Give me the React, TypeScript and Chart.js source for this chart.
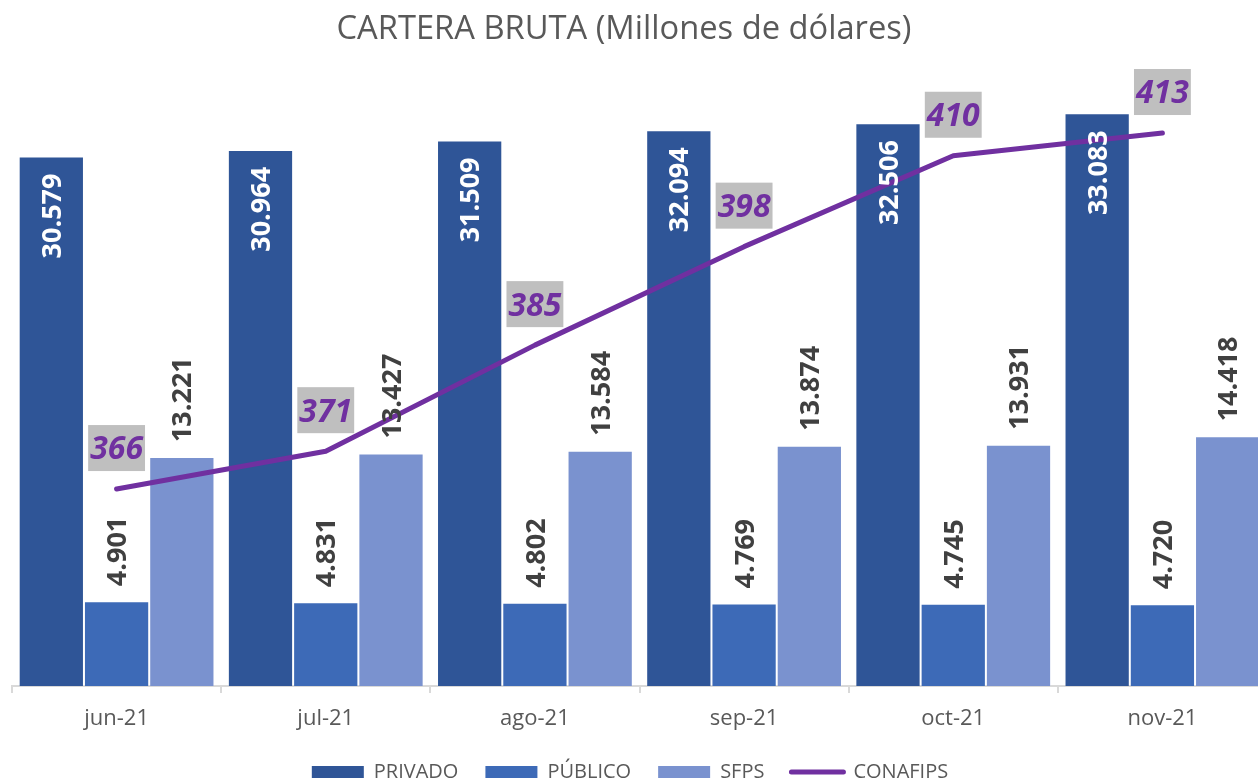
import React, { useEffect, useRef } from "react";
import { Chart, registerables } from "chart.js";

Chart.register(...registerables);

const titleText = "CARTERA BRUTA (Millones de dólares)";
const categories = ["jun-21", "jul-21", "ago-21", "sep-21", "oct-21", "nov-21"];
const seriesNames = ["PRIVADO", "PÚBLICO", "SFPS", "CONAFIPS"];
const privado = [30579, 30964, 31509, 32094, 32506, 33083];
const publico = [4901, 4831, 4802, 4769, 4745, 4720];
const sfps = [13221, 13427, 13584, 13874, 13931, 14418];
const conafips = [366, 371, 385, 398, 410, 413];

const FONT = "'Open Sans'";

function fmtThousands(v: number): string {
  return String(Math.round(v)).replace(/\B(?=(\d{3})+(?!\d))/g, ".");
}

const labelPlugin = {
  id: "valueLabels",
  afterDatasetsDraw(chart: any) {
    const ctx = chart.ctx as CanvasRenderingContext2D;
    ctx.save();
    const fs = 27;
    ctx.font = `bold ${fs}px ${FONT}`;
    [0, 1, 2].forEach((di) => {
      const meta = chart.getDatasetMeta(di);
      const data = chart.data.datasets[di].data as number[];
      meta.data.forEach((bar: any, i: number) => {
        const text = fmtThousands(data[i]);
        ctx.save();
        ctx.translate(bar.x, bar.y + (di === 0 ? 17 : -15));
        ctx.rotate(-Math.PI / 2);
        ctx.textAlign = di === 0 ? "right" : "left";
        ctx.textBaseline = "alphabetic";
        ctx.fillStyle = di === 0 ? "#FFFFFF" : "#404040";
        ctx.fillText(text, 0, fs * 0.357);
        ctx.restore();
      });
    });
    const lmeta = chart.getDatasetMeta(3);
    const ldata = chart.data.datasets[3].data as number[];
    const lf = 32;
    ctx.font = `italic bold ${lf}px ${FONT}`;
    lmeta.data.forEach((pt: any, i: number) => {
      const text = String(ldata[i]);
      const w = ctx.measureText(text).width + 4;
      const h = 46;
      const bottom = pt.y - 18;
      ctx.fillStyle = "#BFBFBF";
      ctx.fillRect(pt.x - w / 2, bottom - h, w, h);
      ctx.fillStyle = "#7030A0";
      ctx.textAlign = "center";
      ctx.textBaseline = "alphabetic";
      ctx.fillText(text, pt.x, bottom - h / 2 + lf * 0.357);
    });
    ctx.restore();
  },
};

export default function App() {
  const ref = useRef<HTMLCanvasElement>(null);

  useEffect(() => {
    if (!ref.current) return;
    const barCommon = {
      type: "bar" as const,
      yAxisID: "y",
      order: 1,
      borderWidth: 1,
      borderColor: "rgba(255,255,255,0.18)",
      categoryPercentage: 0.936,
      barPercentage: 1,
    };
    const chart = new Chart(ref.current, {
      type: "bar",
      data: {
        labels: categories,
        datasets: [
          { ...barCommon, label: seriesNames[0], data: privado, backgroundColor: "#2F5597" },
          { ...barCommon, label: seriesNames[1], data: publico, backgroundColor: "#3D6AB7" },
          { ...barCommon, label: seriesNames[2], data: sfps, backgroundColor: "#7A92CF" },
          {
            type: "line",
            label: seriesNames[3],
            data: conafips,
            yAxisID: "y1",
            order: 0,
            borderColor: "#7030A0",
            backgroundColor: "#7030A0",
            borderWidth: 5,
            borderCapStyle: "round",
            borderJoinStyle: "round",
            pointRadius: 0,
            tension: 0,
          } as any,
        ],
      },
      options: {
        responsive: false,
        animation: false,
        layout: { padding: { left: 0, right: 0, top: 80, bottom: 0 } },
        scales: {
          x: {
            afterFit: (scale: any) => {
              scale.height = 49;
            },
            grid: {
              display: true,
              drawOnChartArea: false,
              drawTicks: true,
              tickLength: 7,
              color: "#D9D9D9",
              lineWidth: 2,
            },
            border: { display: true, color: "#D9D9D9", width: 2 },
            ticks: {
              color: "#595959",
              font: { family: FONT, size: 22 },
              padding: 13,
            },
          },
          y: {
            display: true,
            min: 0,
            max: 35000,
            position: "left",
            grid: { display: false },
            border: { display: false },
            ticks: { display: false },
            afterFit: (scale: any) => {
              scale.width = 19;
            },
          },
          y1: { display: false, min: 340, max: 420, position: "right" },
        },
        plugins: {
          title: { display: false },
          tooltip: { enabled: false },
          legend: {
            position: "bottom",
            labels: {
              usePointStyle: true,
              pointStyleWidth: 52,
              boxHeight: 12,
              padding: 27,
              color: "#595959",
              font: { family: FONT, size: 20 },
              sort: (a: any, b: any) => a.datasetIndex - b.datasetIndex,
              generateLabels(ch: any) {
                const items = (Chart.defaults.plugins.legend.labels as any).generateLabels(ch);
                items.forEach((it: any) => {
                  if (it.datasetIndex < 3) {
                    it.pointStyle = "rect";
                    it.lineWidth = 0;
                    it.strokeStyle = it.fillStyle;
                  } else {
                    it.pointStyle = "line";
                    it.lineWidth = 5;
                    it.lineCap = "round";
                    it.strokeStyle = "#7030A0";
                  }
                });
                return items;
              },
            },
          },
        },
      },
      plugins: [labelPlugin],
    });
    return () => chart.destroy();
  }, []);

  return (
    <div
      style={{
        position: "absolute",
        left: 0,
        top: 0,
        width: 1258,
        height: 783,
        overflow: "hidden",
        background: "#FFFFFF",
      }}
    >
      <canvas
        ref={ref}
        width={1274}
        height={792}
        style={{ position: "absolute", left: -7, top: 0, width: 1274, height: 792 }}
      />
      <div
        style={{
          position: "absolute",
          left: 0,
          top: 8,
          width: 1248,
          textAlign: "center",
          fontFamily: FONT,
          fontSize: 32.7,
          lineHeight: "38px",
          color: "#595959",
        }}
      >
        {titleText}
      </div>
    </div>
  );
}
